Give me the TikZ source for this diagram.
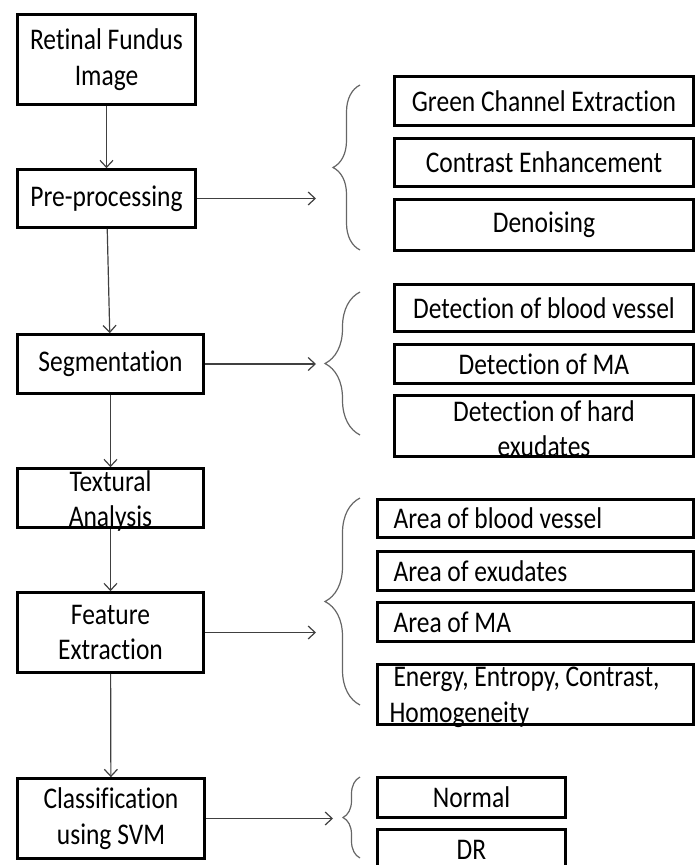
\documentclass[tikz,border=0pt]{standalone}
\usepackage{fontspec}
\setmainfont{Carlito}[FakeStretch=0.85,Ligatures=NoCommon]
\usetikzlibrary{arrows.meta,decorations.pathreplacing}
\newcommand{\overlong}[3][\centering]{\smash{\raisebox{-9pt}{\parbox[c]{#2}{#1#3}}}}

\begin{document}
\begin{tikzpicture}[x=1pt,y=-1pt,
	font=\fontsize{30}{35.5}\selectfont,
	stepbox/.style={draw,line width=2.6pt,inner sep=0pt,align=center},
	listbox/.style={draw,line width=2.6pt,inner xsep=16pt,inner ysep=0pt,align=flush left,text width=284pt},
	link/.style={-{Straight Barb[length=7pt,width=13pt]},line width=1.2pt,black!75},
	curly/.style={decorate,decoration={brace,amplitude=#1},line width=1.2pt,black!60}]
		\useasboundingbox (0,0) rectangle (698,865);
		% main chain
		\node[stepbox,minimum width=178pt,minimum height=90pt] (ret) at (106.5,59.5) {Retinal Fundus\\Image};
		\node[stepbox,minimum width=178pt,minimum height=58pt] (pre) at (106.5,198.5) {Pre-processing};
		\node[stepbox,minimum width=186pt,minimum height=59pt] (seg) at (110.5,364) {Segmentation};
		\node[stepbox,minimum width=186pt,minimum height=59pt] (tex) at (110.5,498) {\overlong{180pt}{Textural\\Analysis}};
		\node[stepbox,minimum width=186pt,minimum height=80pt] (feat) at (110.5,632.5) {Feature\\Extraction};
		\node[stepbox,minimum width=187pt,minimum height=80pt] (cls) at (111,818.5) {Classification\\using SVM};
		\foreach \a/\b in {ret/pre,pre/seg,seg/tex,tex/feat,feat/cls} \draw[link] (\a) -- (\b);
		% pre-processing steps
		\node[stepbox,minimum width=299pt,minimum height=49pt] (gce) at (544,101) {Green Channel Extraction};
		\node[stepbox,minimum width=299pt,minimum height=48pt] (ce) at (544,162.5) {Contrast Enhancement};
		\node[stepbox,minimum width=299pt,minimum height=51pt] (den) at (544,225) {Denoising};
		% segmentation steps
		\node[stepbox,minimum width=299pt,minimum height=47pt] (dbv) at (544,308) {Detection of blood vessel};
		\node[stepbox,minimum width=299pt,minimum height=39pt] (dma) at (544,364) {Detection of MA};
		\node[stepbox,minimum width=299pt,minimum height=61pt] (dhe) at (544,426) {\overlong{290pt}{Detection of hard\\exudates}};
		% features
		\node[listbox,minimum height=38pt] (abv) at (535.5,518.5) {Area of blood vessel};
		\node[listbox,minimum height=39pt] (aex) at (535.5,571) {Area of exudates};
		\node[listbox,minimum height=39pt] (ama) at (535.5,622) {Area of MA};
		\node[listbox,minimum height=60pt] (een) at (535.5,694.5) {\overlong[\raggedright]{284pt}{Energy, Entropy, Contrast,\\\hspace*{-4pt}Homogeneity}};
		% classes
		\node[stepbox,minimum width=188pt,minimum height=40pt] (nor) at (471.5,797.5) {Normal};
		\node[stepbox,minimum width=188pt,minimum height=40pt] (dr) at (471.5,849.5) {DR};
		% arrows to the braces
		\coordinate (pin) at (316,200);
		\coordinate (sin) at (316,364);
		\coordinate (fin) at (316,632);
		\coordinate (cin) at (333,818);
		\draw[link] (pre) -- (pre -| pin);
		\draw[link] (seg) -- (seg -| sin);
		\draw[link] (feat) -- (feat -| fin);
		\draw[link] (cls) -- (cls -| cin);
		% braces
		\draw[curly=27pt] (360,250) -- (360,85);
		\draw[curly=35pt] (360,435) -- (360,292);
		\draw[curly=35pt] (360,705) -- (360,498);
		\draw[curly=17pt] (360,858) -- (360,777);
	\end{tikzpicture}
\end{document}
